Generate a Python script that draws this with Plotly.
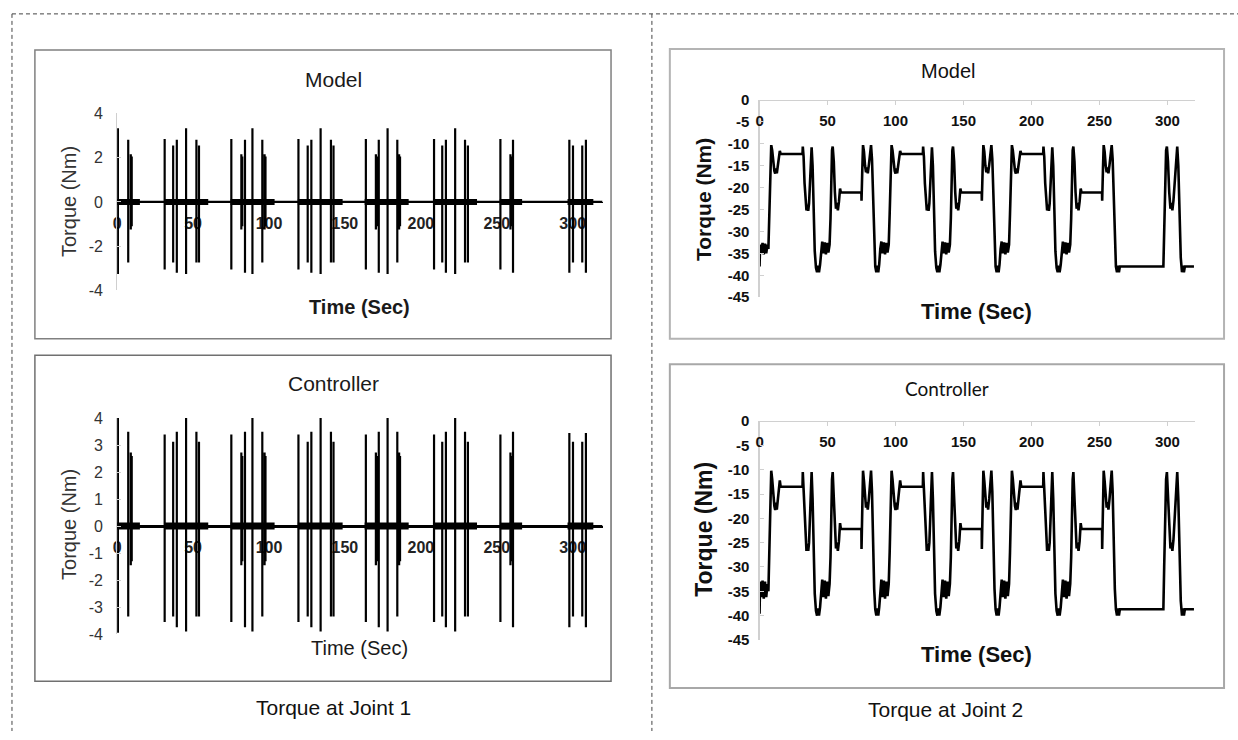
import plotly.graph_objects as go

W, H = 1238, 740


def fx(px):
    return px / W


def fy(py):
    return 1 - py / H


# ------------------------------------------------------------------ data
# Joint 1: spike events (time, positive peak, negative trough)
J1_T = [0.5, 7.3, 9.0, 9.6,
        31.3, 36.9, 39.3, 45.4, 52.2, 53.9,
        75.2, 81.8, 82.4, 84.2, 89.1, 95.6, 97.1, 97.7,
        119.4, 125.5, 127.9, 134.0, 140.8, 142.5,
        163.8, 170.4, 171.0, 172.3, 178.1, 184.5, 185.7, 186.3,
        208.7, 214.1, 216.5, 222.6, 229.1, 231.0,
        252.4, 259.0, 259.6, 260.7,
        297.8, 300.2, 306.3, 308.7]
J1_MODEL_PEAK = [3.33, 2.81, 2.15, 2.05,
                 2.84, 2.55, 2.81, 3.33, 2.81, 2.55,
                 2.84, 2.15, 2.05, 2.81, 3.33, 2.81, 2.15, 2.05,
                 2.84, 2.55, 2.81, 3.33, 2.81, 2.55,
                 2.84, 2.15, 2.05, 2.81, 3.33, 2.81, 2.15, 2.05,
                 2.84, 2.55, 2.81, 3.33, 2.81, 2.55,
                 2.84, 2.15, 2.05, 2.81,
                 2.81, 2.55, 2.55, 2.81]
J1_MODEL_TROUGH = [-3.26, -2.74, -1.25, -1.10,
                   -3.05, -2.74, -3.20, -3.26, -2.74, -2.74,
                   -3.05, -1.25, -1.10, -3.20, -3.26, -2.74, -1.25, -1.10,
                   -3.05, -2.74, -3.20, -3.26, -2.74, -2.74,
                   -3.05, -1.25, -1.10, -3.20, -3.26, -2.74, -1.25, -1.10,
                   -3.05, -2.74, -3.20, -3.26, -2.74, -2.74,
                   -3.05, -1.25, -1.10, -3.20,
                   -3.20, -2.74, -2.74, -3.20]
J1_CTRL_PEAK = [4.00, 3.49, 2.73, 2.60,
                3.39, 3.12, 3.49, 4.00, 3.49, 3.12,
                3.39, 2.73, 2.60, 3.49, 4.00, 3.49, 2.73, 2.60,
                3.39, 3.12, 3.49, 4.00, 3.49, 3.12,
                3.39, 2.73, 2.60, 3.49, 4.00, 3.49, 2.73, 2.60,
                3.39, 3.12, 3.49, 4.00, 3.49, 3.12,
                3.39, 2.73, 2.60, 3.49,
                3.45, 3.12, 3.12, 3.45]
J1_CTRL_TROUGH = [-3.95, -3.35, -1.45, -1.30,
                  -3.55, -3.35, -3.75, -3.90, -3.35, -3.35,
                  -3.55, -1.45, -1.30, -3.75, -3.90, -3.35, -1.45, -1.30,
                  -3.55, -3.35, -3.75, -3.90, -3.35, -3.35,
                  -3.55, -1.45, -1.30, -3.75, -3.90, -3.35, -1.45, -1.30,
                  -3.55, -3.35, -3.75, -3.90, -3.35, -3.35,
                  -3.55, -1.45, -1.30, -3.75,
                  -3.75, -3.35, -3.35, -3.75]
# dense near-zero chatter during each burst
J1_BURST_START = [0.0, 31.0, 74.7, 119.0, 163.0, 208.0, 252.0, 296.6]
J1_BURST_END = [15.0, 60.0, 103.7, 148.5, 192.0, 237.0, 266.7, 313.6]
J1_T_END = 319.5

# Joint 2: torque curve (time in s, torque in Nm); the same time base for model and controller
T2_START = [0.0, 0.4, 1.3, 2.2, 3.1, 4.0, 4.9, 5.8, 6.5]
T2_C0 = [7.2, 7.7, 8.2, 8.6, 9.3, 10.1, 10.9, 11.5, 12.1, 12.7, 13.4, 14.2, 14.9, 15.5,
         31.6, 31.8, 32.4, 33.1, 33.8, 34.5, 35.2, 35.8, 36.4, 37.1, 37.7, 38.3,
         39.0, 39.8, 40.6, 41.5, 42.3, 43.0, 43.7, 44.5, 45.3, 46.1, 47.0, 47.9, 48.8, 49.7, 50.6, 51.5,
         52.2, 52.8, 53.3, 53.8, 54.6, 55.4, 56.2, 56.9, 57.6, 58.4, 59.2, 59.8,
         74.9, 75.0, 75.2, 75.6, 76.1, 76.8, 77.6, 78.3, 78.9, 79.6, 80.4, 81.3, 82.0,
         82.7, 83.5, 84.3, 85.1, 85.9, 86.6, 87.3, 88.0, 88.8, 89.6, 90.5, 91.4, 92.3, 93.2, 94.1, 95.0]
T2_C1 = [95.7, 96.2, 96.7, 97.1, 97.8, 98.6, 99.4, 100.0, 100.6, 101.2, 101.9, 102.7, 103.4, 104.0,
         120.1, 120.3, 120.9, 121.6, 122.3, 123.0, 123.7, 124.3, 124.9, 125.6, 126.2, 126.8,
         127.5, 128.3, 129.1, 130.0, 130.8, 131.5, 132.2, 133.0, 133.8, 134.6, 135.5, 136.4, 137.3, 138.2,
         139.1, 140.0,
         140.7, 141.3, 141.8, 142.3, 143.1, 143.9, 144.7, 145.4, 146.1, 146.9, 147.7, 148.3,
         163.4, 163.5, 163.7, 164.1, 164.6, 165.3, 166.1, 166.8, 167.4, 168.1, 168.9, 169.8, 170.5,
         171.2, 172.0, 172.8, 173.6, 174.4, 175.1, 175.8, 176.5, 177.3, 178.1, 179.0, 179.9, 180.8,
         181.7, 182.6, 183.5]
T2_C2 = [184.2, 184.7, 185.2, 185.6, 186.3, 187.1, 187.9, 188.5, 189.1, 189.7, 190.4, 191.2, 191.9, 192.5,
         208.6, 208.8, 209.4, 210.1, 210.8, 211.5, 212.2, 212.8, 213.4, 214.1, 214.7, 215.3,
         216.0, 216.8, 217.6, 218.5, 219.3, 220.0, 220.7, 221.5, 222.3, 223.1, 224.0, 224.9, 225.8, 226.7,
         227.6, 228.5,
         229.2, 229.8, 230.3, 230.8, 231.6, 232.4, 233.2, 233.9, 234.6, 235.4, 236.2, 236.8,
         251.9, 252.0, 252.2, 252.6, 253.1, 253.8, 254.6, 255.3, 255.9, 256.6, 257.4, 258.3, 259.0,
         259.7, 260.5, 261.3, 262.1, 262.9, 263.6, 264.3, 265.0]
T2_TAIL = [297.0, 297.6, 298.3, 299.0, 299.6, 300.4, 301.3, 302.2, 302.9, 303.6, 304.4, 305.3,
           306.3, 307.2, 308.0, 308.9, 309.8, 310.7, 311.4, 312.1, 312.8, 319.5]

Q2_MODEL_START = [-38.0, -33.0, -35.0, -32.6, -35.2, -32.8, -35.0, -33.0, -34.0]
Q2_MODEL_CYCLE = [-26, -17, -11.5, -10.3, -11.5, -14.5, -16.2, -16.8, -15.6, -16.7, -15.2, -12.5, -11.6, -12.3,
                  -12.3, -10.6, -13, -19, -23.8, -25.2, -23.9, -25.3, -23.6, -19.5, -13.5, -10.8,
                  -15, -26, -34.5, -38.3, -39.3, -37.8, -39.3, -37.6, -34, -32.3, -35.0, -32.5, -35.2, -32.6,
                  -34.8, -33.0,
                  -27, -17, -11.5, -10.6, -14, -21, -24.8, -23.5, -25.2, -23.2, -20.2, -21.1,
                  -21.1, -23.0, -21.5, -15.5, -10.3, -11.8, -15, -16.5, -15.4, -16.7, -14.8, -11.5, -10.3,
                  -13.5, -24, -33.5, -38.0, -39.3, -37.8, -39.3, -37.5, -34, -32.3, -35.0, -32.5, -35.2,
                  -32.6, -34.8, -33.0]
Q2_MODEL_LAST = [-26, -17, -11.5, -10.3, -11.5, -14.5, -16.2, -16.8, -15.6, -16.7, -15.2, -12.5, -11.6, -12.3,
                 -12.3, -10.6, -13, -19, -23.8, -25.2, -23.9, -25.3, -23.6, -19.5, -13.5, -10.8,
                 -15, -26, -34.5, -38.3, -39.3, -37.8, -39.3, -37.6, -34, -32.3, -35.0, -32.5, -35.2, -32.6,
                 -34.8, -33.0,
                 -27, -17, -11.5, -10.6, -14, -21, -24.8, -23.5, -25.2, -23.2, -20.2, -21.1,
                 -21.1, -23.0, -21.5, -15.5, -10.3, -11.8, -15, -16.5, -15.4, -16.7, -14.8, -11.5, -10.3,
                 -13.5, -24, -33.5, -38.0, -39.3, -37.8, -39.3, -38.0]
Q2_MODEL_TAIL = [-38.0, -30, -18, -11.5, -10.6, -14, -21, -24.8, -23.5, -25.2, -23, -19,
                 -13, -10.6, -15, -27, -36, -39.3, -37.8, -39.3, -38.0, -38.0]

Q2_CTRL_START = [-39.6, -33.0, -36.2, -32.8, -36.5, -33.0, -36.2, -33.5, -35.0]
Q2_CTRL_CYCLE = [-27, -17.5, -12.0, -10.2, -12.0, -15.5, -17.5, -18.3, -16.8, -18.2, -16.5, -13.2, -12.2, -13.5,
                 -13.5, -10.5, -14, -20, -25.3, -26.7, -25.3, -26.7, -25.0, -20.5, -14, -10.5,
                 -16, -27, -35.5, -39.0, -40.0, -38.5, -40.0, -38.3, -35, -32.6, -36.2, -32.8, -36.5, -33.0,
                 -36.0, -33.5,
                 -28, -17.5, -12.0, -10.5, -15, -22, -26.2, -25.0, -26.7, -24.7, -21.0, -22.2,
                 -22.2, -26.3, -22.5, -16, -10.2, -12.3, -16, -17.8, -16.7, -18.2, -16.0, -12.0, -10.2,
                 -14.5, -25, -34.5, -38.7, -40.0, -38.5, -40.0, -38.3, -35, -32.6, -36.2, -32.8, -36.5,
                 -33.0, -36.0, -33.5]
Q2_CTRL_LAST = [-27, -17.5, -12.0, -10.2, -12.0, -15.5, -17.5, -18.3, -16.8, -18.2, -16.5, -13.2, -12.2, -13.5,
                -13.5, -10.5, -14, -20, -25.3, -26.7, -25.3, -26.7, -25.0, -20.5, -14, -10.5,
                -16, -27, -35.5, -39.0, -40.0, -38.5, -40.0, -38.3, -35, -32.6, -36.2, -32.8, -36.5, -33.0,
                -36.0, -33.5,
                -28, -17.5, -12.0, -10.5, -15, -22, -26.2, -25.0, -26.7, -24.7, -21.0, -22.2,
                -22.2, -26.3, -22.5, -16, -10.2, -12.3, -16, -17.8, -16.7, -18.2, -16.0, -12.0, -10.2,
                -14.5, -25, -34.5, -38.7, -40.0, -38.5, -40.0, -38.7]
Q2_CTRL_TAIL = [-38.7, -30, -18, -12, -10.5, -15, -22, -26.2, -25.0, -26.7, -24.5, -20,
                -14, -10.5, -16, -28, -37, -40.0, -38.5, -40.0, -38.7, -38.7]

# Axis tick labels
J1_XTICKS = [0, 50, 100, 150, 200, 250, 300]
J1_MODEL_YTICKS = [-4, -2, 0, 2, 4]
J1_CTRL_YTICKS = [-4, -3, -2, -1, 0, 1, 2, 3, 4]
J2_XTICKS = [0, 50, 100, 150, 200, 250, 300]
J2_YTICKS = [0, -5, -10, -15, -20, -25, -30, -35, -40, -45]

# ------------------------------------------------------------------ build series
T2 = T2_START + T2_C0 + T2_C1 + T2_C2 + T2_TAIL
Q2_MODEL = Q2_MODEL_START + Q2_MODEL_CYCLE + Q2_MODEL_CYCLE + Q2_MODEL_LAST + Q2_MODEL_TAIL
Q2_CTRL = Q2_CTRL_START + Q2_CTRL_CYCLE + Q2_CTRL_CYCLE + Q2_CTRL_LAST + Q2_CTRL_TAIL
assert len(T2) == len(Q2_MODEL) == len(Q2_CTRL), (len(T2), len(Q2_MODEL), len(Q2_CTRL))


def spike_series(times, peaks, troughs, t_end):
    xs, ys = [0.0], [0.0]
    for t, p, q in zip(times, peaks, troughs):
        xs += [t, t, t, t]
        ys += [0, p, q, 0]
    xs.append(t_end)
    ys.append(0)
    return xs, ys


def burst_series(starts, ends):
    xs, ys = [], []
    for a, b in zip(starts, ends):
        xs += [a, b, None]
        ys += [0, 0, None]
    return xs, ys


FONT = "Liberation Sans, Arial, sans-serif"
fig = go.Figure()

# Joint 1 model (top-left)
x, y = spike_series(J1_T, J1_MODEL_PEAK, J1_MODEL_TROUGH, J1_T_END)
fig.add_trace(go.Scatter(x=x, y=y, mode="lines", line=dict(color="black", width=2.2),
                         xaxis="x", yaxis="y", hoverinfo="skip", showlegend=False))
bx, by = burst_series(J1_BURST_START, J1_BURST_END)
fig.add_trace(go.Scatter(x=bx, y=by, mode="lines", line=dict(color="black", width=6),
                         xaxis="x", yaxis="y", hoverinfo="skip", showlegend=False))
# Joint 1 controller (bottom-left)
x, y = spike_series(J1_T, J1_CTRL_PEAK, J1_CTRL_TROUGH, J1_T_END)
fig.add_trace(go.Scatter(x=x, y=y, mode="lines", line=dict(color="black", width=2.2),
                         xaxis="x2", yaxis="y2", hoverinfo="skip", showlegend=False))
fig.add_trace(go.Scatter(x=bx, y=by, mode="lines", line=dict(color="black", width=7),
                         xaxis="x2", yaxis="y2", hoverinfo="skip", showlegend=False))
# Joint 2 model (top-right)
fig.add_trace(go.Scatter(x=T2, y=Q2_MODEL, mode="lines", line=dict(color="black", width=2.6),
                         xaxis="x3", yaxis="y3", hoverinfo="skip", showlegend=False))
# Joint 2 controller (bottom-right)
fig.add_trace(go.Scatter(x=T2, y=Q2_CTRL, mode="lines", line=dict(color="black", width=2.6),
                         xaxis="x4", yaxis="y4", hoverinfo="skip", showlegend=False))

# ------------------------------------------------------------------ axes
left_x = dict(range=[0, 320], tickvals=J1_XTICKS, ticktext=[str(v) for v in J1_XTICKS],
              anchor="free", side="bottom", showline=True, linecolor="black", linewidth=1.5,
              ticks="", showgrid=False, zeroline=False, layer="below traces",
              tickfont=dict(family=FONT, size=16, color="#222", weight="bold"),
              ticklabelstandoff=6, fixedrange=True)
left_y = dict(showline=True, linecolor="#cfcfcf", linewidth=1, ticks="inside", ticklen=4,
              tickcolor="#cfcfcf", showgrid=False, zeroline=False,
              tickfont=dict(family=FONT, size=16, color="#333"), ticklabelstandoff=10,
              fixedrange=True)
right_x = dict(range=[0, 320], tickvals=J2_XTICKS, ticktext=[str(v) for v in J2_XTICKS],
               anchor="free", side="bottom", showline=True, linecolor="#d0d0d0", linewidth=1.2,
               ticks="outside", ticklen=4, tickcolor="#d0d0d0", showgrid=False, zeroline=False,
               tickfont=dict(family=FONT, size=15, color="#111", weight="bold"),
               ticklabelstandoff=3, fixedrange=True)
right_y = dict(range=[-45, 0], tickvals=J2_YTICKS, ticktext=[str(v) for v in J2_YTICKS],
               showline=True, linecolor="#d0d0d0", linewidth=1.2, ticks="inside", ticklen=4,
               tickcolor="#d0d0d0", showgrid=False, zeroline=False,
               tickfont=dict(family=FONT, size=15, color="#111", weight="bold"),
               ticklabelstandoff=6, fixedrange=True)

fig.update_layout(
    xaxis=dict(left_x, domain=[fx(113.5), fx(601)], position=fy(197.7)),
    yaxis=dict(left_y, domain=[fy(288.5), fy(107)], range=[-4, 4], anchor="x",
               tickvals=J1_MODEL_YTICKS, ticktext=[str(v) for v in J1_MODEL_YTICKS]),
    xaxis2=dict(left_x, domain=[fx(113.5), fx(601)], position=fy(530)),
    yaxis2=dict(left_y, domain=[fy(640.7), fy(419.3)], range=[-4, 4], anchor="x2",
                tickvals=J1_CTRL_YTICKS, ticktext=[str(v) for v in J1_CTRL_YTICKS]),
    xaxis3=dict(right_x, domain=[fx(758), fx(1194.5)], position=fy(93.3)),
    yaxis3=dict(right_y, domain=[fy(295.4), fy(93.3)], anchor="x3"),
    xaxis4=dict(right_x, domain=[fx(758), fx(1194.5)], position=fy(422.3)),
    yaxis4=dict(right_y, domain=[fy(646.7), fy(422.3)], anchor="x4"),
)

# ------------------------------------------------------------------ frames
shapes = []


def box(x0, y0, x1, y1, color, width):
    shapes.append(dict(type="rect", xref="paper", yref="paper", x0=fx(x0), x1=fx(x1),
                       y0=fy(y1), y1=fy(y0), line=dict(color=color, width=width),
                       fillcolor="rgba(0,0,0,0)", layer="below"))


box(31, 42, 609, 338, "#808080", 1.5)
box(31, 355, 609, 689, "#707070", 1.5)
box(668, 41, 1224, 338, "#b4b4b4", 2)
box(668, 364, 1224, 696, "#a8a8a8", 2)

for (x0, y0, x1, y1) in [(8, 5, 1238, 5), (8, 5, 8, 740), (650, 5, 650, 740)]:
    shapes.append(dict(type="line", xref="paper", yref="paper", x0=fx(x0), x1=fx(x1),
                       y0=fy(y0), y1=fy(y1), line=dict(color="#444", width=1, dash="4px,3px")))

# ------------------------------------------------------------------ texts
ann = []


def text(s, x, y, size, bold=False, family=FONT, angle=0, color="#1a1a1a"):
    ann.append(dict(text=s, x=fx(x), y=fy(y), xref="paper", yref="paper", showarrow=False,
                    xanchor="center", yanchor="middle", textangle=angle,
                    font=dict(family=family, size=size, color=color,
                              weight="bold" if bold else "normal")))


text("Model", 331, 72, 21)
text("Controller", 331, 384, 21)
text("Time (Sec)", 357, 305, 20, bold=True)
text("Time (Sec)", 357, 655, 20)
text("Torque (Nm)", 65, 197, 20, angle=-90, color="#333")
text("Torque (Nm)", 65, 528, 20, angle=-90, color="#333")

text("Model", 947, 64, 20, color="#111")
text("Controller", 946, 389, 19, family="Lato, Open Sans, sans-serif", color="#111")
text("Time (Sec)", 976, 310, 22, bold=True, color="#111")
text("Time (Sec)", 976, 662, 22, bold=True, color="#111")
text("Torque (Nm)", 702, 195, 21, bold=True, angle=-90, color="#111")
text("Torque (Nm)", 702, 533, 23, bold=True, angle=-90, color="#111")

text("Torque at Joint 1", 331, 716, 21, color="#111")
text("Torque at Joint 2", 945, 718, 21, color="#111")

fig.update_layout(width=W, height=H, margin=dict(l=0, r=0, t=0, b=0),
                  paper_bgcolor="white", plot_bgcolor="white",
                  shapes=shapes, annotations=ann, showlegend=False)

fig.write_html("out.html", config={"displayModeBar": False, "staticPlot": True},
               post_script="document.body.style.margin='0px';document.body.style.overflow='hidden';")
